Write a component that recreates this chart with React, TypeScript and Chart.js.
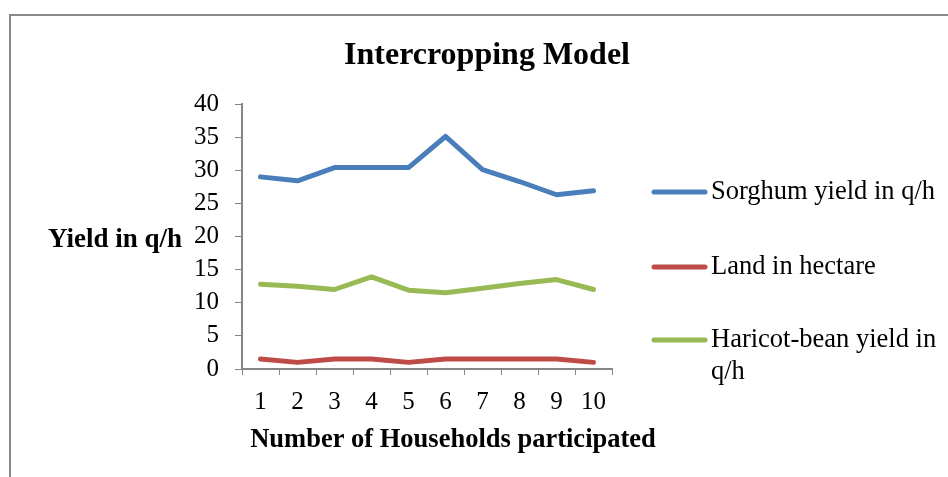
import React, { useEffect, useRef } from "react";
import { Chart, registerables } from "chart.js";

Chart.register(...registerables);

const households = ["1", "2", "3", "4", "5", "6", "7", "8", "9", "10"];
const sorghumYield = [29.0, 28.4, 30.4, 30.4, 30.4, 35.1, 30.1, 28.3, 26.3, 26.9];
const landHectare = [1.5, 1, 1.5, 1.5, 1, 1.5, 1.5, 1.5, 1.5, 1];
const haricotYield = [12.8, 12.5, 12.0, 13.9, 11.9, 11.5, 12.2, 12.9, 13.5, 12.0];
const seriesNames = ["Sorghum yield in q/h", "Land in hectare", "Haricot-bean yield in q/h"];
const seriesLegendLines = [["Sorghum yield in q/h"], ["Land in hectare"], ["Haricot-bean yield in", "q/h"]];
const seriesColors = ["#4A7EBB", "#BE4B48", "#98B954"];
const yTicks = [0, 5, 10, 15, 20, 25, 30, 35, 40];
const titleText = "Intercropping Model";
const xTitle = "Number of Households participated";
const yTitle = "Yield in q/h";

const FONT = "'Liberation Serif', 'Times New Roman', serif";

const overlayPlugin = {
  id: "overlay",
  afterDraw(chart: any) {
    const ctx = chart.ctx;
    ctx.save();
    ctx.fillStyle = "#000";
    // Title
    ctx.font = `bold 32px ${FONT}`;
    ctx.textAlign = "center";
    ctx.textBaseline = "middle";
    ctx.fillText(titleText, 487, 56);
    // Y axis title (horizontal)
    ctx.font = `bold 27px ${FONT}`;
    ctx.textAlign = "left";
    ctx.fillText(yTitle, 48, 240);
    // X axis title
    ctx.font = `bold 26.5px ${FONT}`;
    ctx.textAlign = "center";
    ctx.fillText(xTitle, 453, 440);
    // Legend
    const ys = [192, 267, 340];
    ctx.font = `26.5px ${FONT}`;
    ctx.textAlign = "left";
    seriesLegendLines.forEach((lines, i) => {
      const y = ys[i];
      ctx.strokeStyle = seriesColors[i];
      ctx.lineWidth = 5;
      ctx.lineCap = "round";
      ctx.beginPath();
      ctx.moveTo(654, y);
      ctx.lineTo(705, y);
      ctx.stroke();
      lines.forEach((t, j) => {
        ctx.fillText(t, 711, y + j * 32);
      });
    });
    ctx.restore();
  },
};

export default function App() {
  const ref = useRef<HTMLCanvasElement | null>(null);
  useEffect(() => {
    if (!ref.current) return;
    const data = [sorghumYield, landHectare, haricotYield];
    const chart = new Chart(ref.current, {
      type: "line",
      data: {
        labels: households,
        datasets: data.map((d, i) => ({
          label: seriesNames[i],
          data: d,
          borderColor: seriesColors[i],
          backgroundColor: seriesColors[i],
          borderWidth: 5,
          pointRadius: 0,
          tension: 0,
          fill: false,
          borderJoinStyle: "round" as const,
          borderCapStyle: "round" as const,
        })),
      },
      options: {
        animation: false,
        responsive: false,
        devicePixelRatio: 1,
        layout: { padding: { left: 0, top: 104, right: 336, bottom: 477 - 369 - 40 } },
        plugins: { legend: { display: false }, tooltip: { enabled: false }, title: { display: false } },
        scales: {
          x: {
            offset: true,
            grid: { offset: true, drawOnChartArea: false, drawTicks: true, tickLength: 6, color: "#868686" },
            border: { color: "#868686", width: 2 },
            ticks: { color: "#000", font: { family: FONT, size: 25 }, padding: 12, maxRotation: 0 },
            afterFit(scale: any) { scale.height = 40; },
          },
          y: {
            min: 0,
            max: 40,
            afterBuildTicks(scale: any) { scale.ticks = yTicks.map((v) => ({ value: v })); },
            grid: { drawOnChartArea: false, drawTicks: true, tickLength: 7, color: "#868686" },
            border: { color: "#868686", width: 2 },
            ticks: { color: "#000", font: { family: FONT, size: 25 }, padding: 16 },
            afterFit(scale: any) { scale.width = 242; },
          },
        },
      },
      plugins: [overlayPlugin],
    });
    return () => chart.destroy();
  }, []);
  return (
    <div style={{ position: "fixed", left: 0, top: 0, width: 948, height: 477, background: "#fff", overflow: "hidden" }}>
      <div style={{ position: "absolute", left: 9, top: 14, width: 1000, height: 600, border: "2px solid #8a8a8a" }} />
      <canvas ref={ref} width={948} height={477} style={{ position: "absolute", left: 0, top: 0, width: 948, height: 477 }} />
    </div>
  );
}
